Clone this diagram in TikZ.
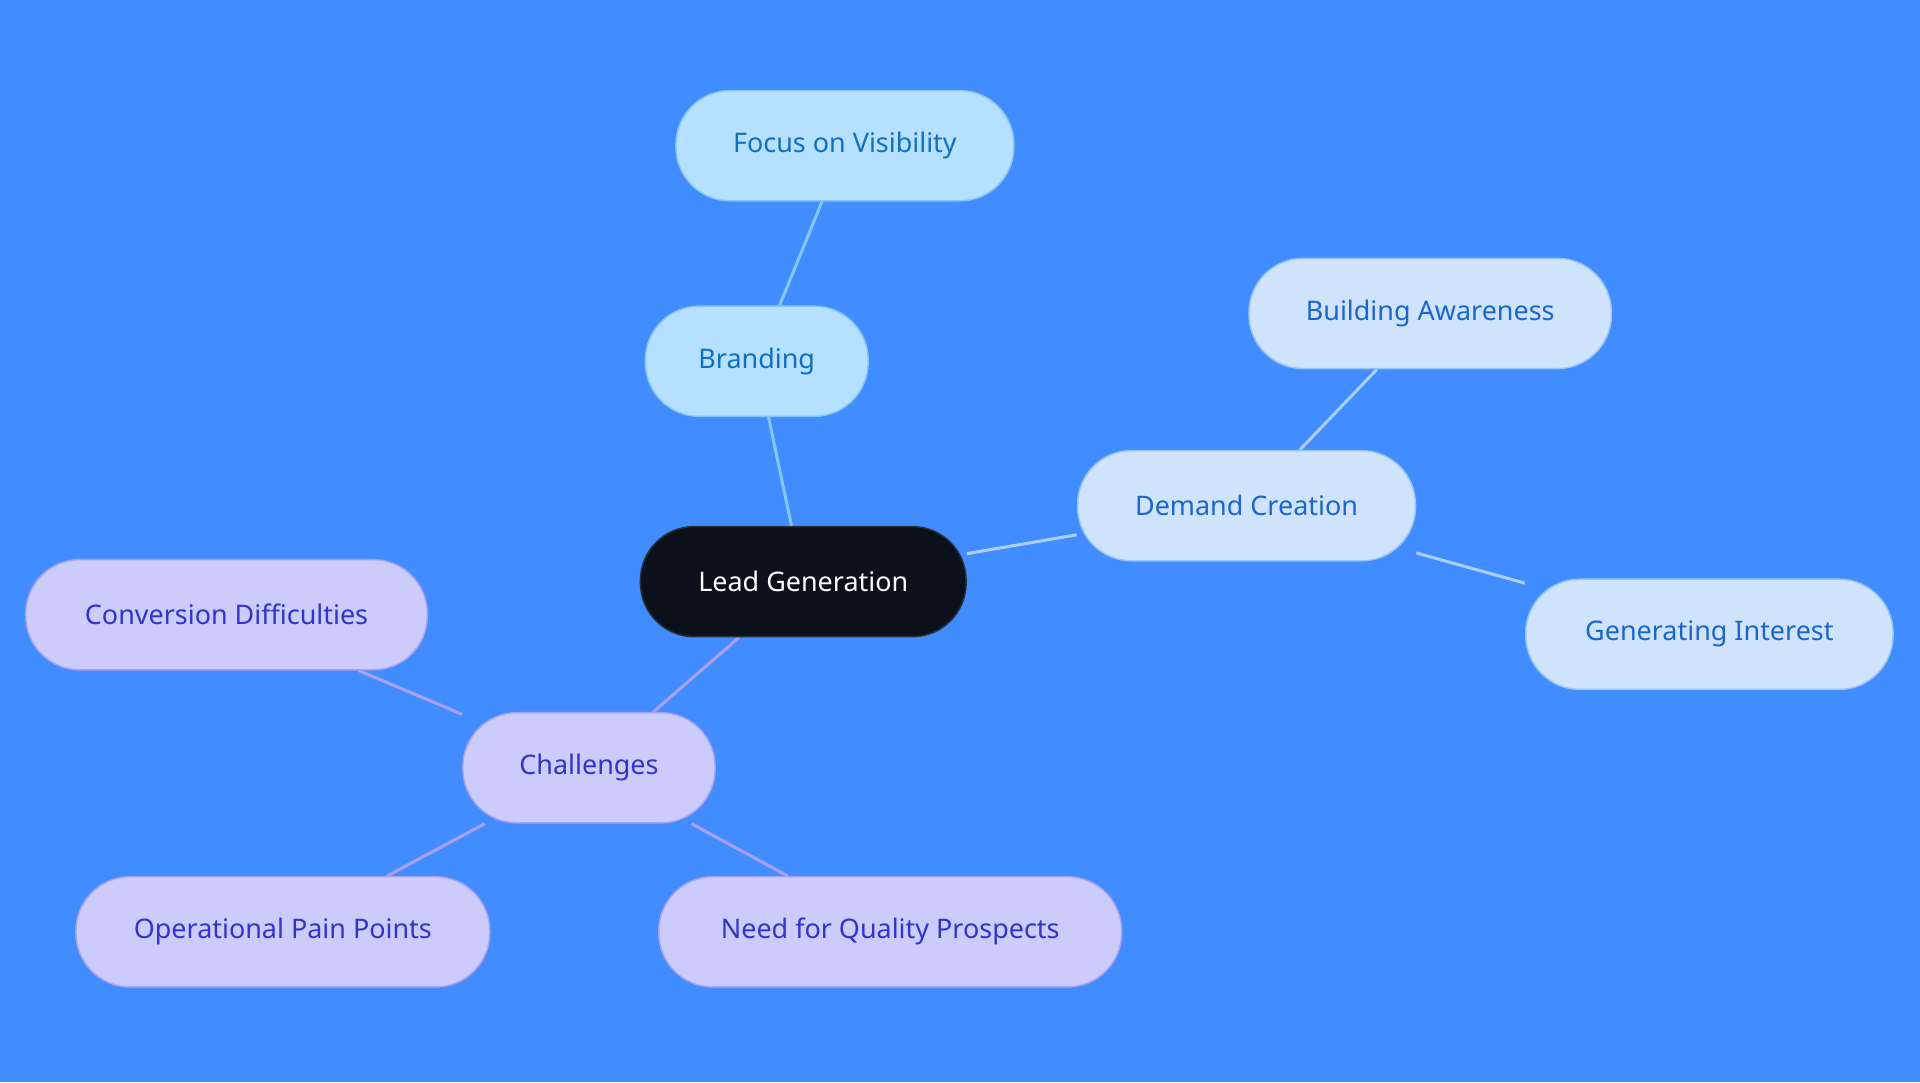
\documentclass[tikz,border=0pt]{standalone}
\usepackage{fontspec}
\setmainfont{Noto Sans}
\usetikzlibrary{backgrounds}
\definecolor{bg}{RGB}{65,140,255}
\definecolor{rootf}{RGB}{11,17,26}
\definecolor{rootd}{RGB}{40,48,60}
\definecolor{blf}{RGB}{181,224,255}
\definecolor{bld}{RGB}{134,198,245}
\definecolor{blt}{RGB}{16,112,192}
\definecolor{dbf}{RGB}{207,228,252}
\definecolor{dbd}{RGB}{150,196,245}
\definecolor{dbt}{RGB}{26,102,204}
\definecolor{dbe}{RGB}{170,205,250}
\definecolor{puf}{RGB}{203,203,252}
\definecolor{pud}{RGB}{170,160,240}
\definecolor{put}{RGB}{51,51,204}
\begin{document}
\begin{tikzpicture}[x=1pt,y=-1pt,
  base/.style={rounded corners=44pt,minimum height=90pt,line width=1.2pt,font=\fontsize{22}{26}\selectfont,inner sep=0pt},
  root/.style={base,fill=rootf,draw=rootd,text=white},
  bl/.style={base,fill=blf,draw=bld,text=blt},
  db/.style={base,fill=dbf,draw=dbd,text=dbt},
  pu/.style={base,fill=puf,draw=pud,text=put},
  eb/.style={line width=2.5pt,draw=bld},
  ed/.style={line width=2.5pt,draw=dbe},
  ep/.style={line width=2.5pt,draw=pud}]
\useasboundingbox (0,0) rectangle (1568,884);
\node[root,minimum width=266pt] (lg) at (656,475) {Lead Generation};
\node[bl,minimum width=182pt] (br) at (618,295) {Branding};
\node[bl,minimum width=276pt] (fv) at (690,119) {Focus on Visibility};
\node[db,minimum width=276pt] (dc) at (1018,413) {Demand Creation};
\node[db,minimum width=296pt] (ba) at (1168,256) {Building Awareness};
\node[db,minimum width=300pt] (gi) at (1396,518) {Generating Interest};
\node[pu,minimum width=206pt] (ch) at (481,627) {Challenges};
\node[pu,minimum width=328pt] (cd) at (185,502) {Conversion Difficulties};
\node[pu,minimum width=338pt] (op) at (231,761) {Operational Pain Points};
\node[pu,minimum width=378pt] (nq) at (727,761) {Need for Quality Prospects};
\begin{scope}[on background layer]
\fill[bg] (0,0) rectangle (1568,884);
\draw[eb] (lg) -- (br);
\draw[eb] (br) -- (fv);
\draw[ed] (lg) -- (dc);
\draw[ed] (dc) -- (ba);
\draw[ed] (dc) -- (gi);
\draw[ep] (lg) -- (ch);
\draw[ep] (ch) -- (cd);
\draw[ep] (ch) -- (op);
\draw[ep] (ch) -- (nq);
\end{scope}
\end{tikzpicture}
\end{document}
